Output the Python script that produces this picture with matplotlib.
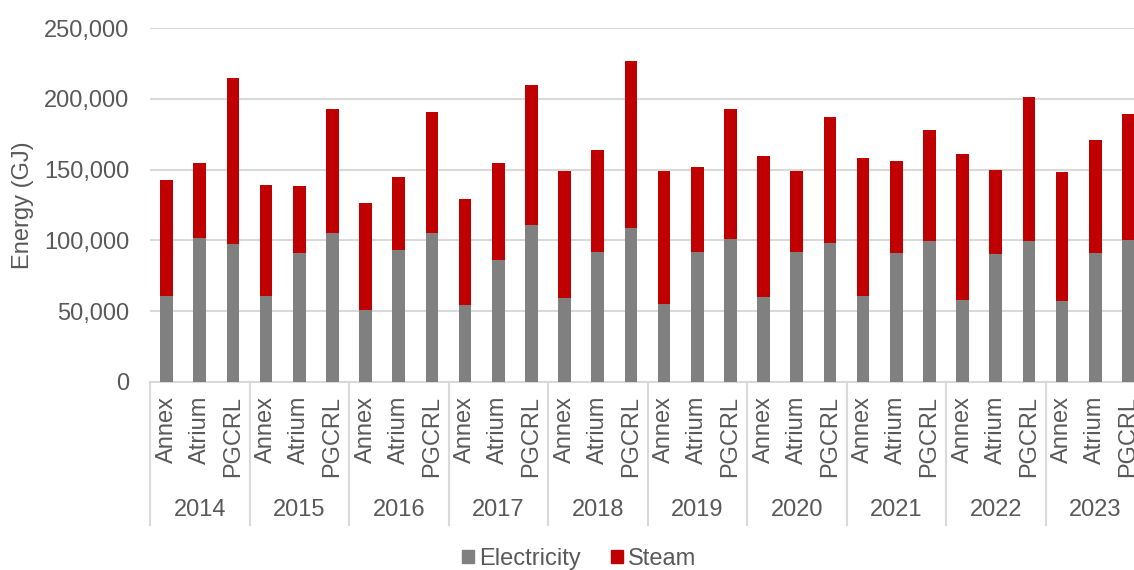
import numpy as np
import matplotlib
matplotlib.use("Agg")
import matplotlib.pyplot as plt
from matplotlib.patches import Patch
from matplotlib.ticker import FuncFormatter

plt.rcParams['font.family'] = ['Liberation Sans', 'DejaVu Sans']

# data (GJ)
years = ['2014', '2015', '2016', '2017', '2018', '2019', '2020', '2021', '2022', '2023']
buildings = ['Annex', 'Atrium', 'PGCRL']

electricity = [60800, 101900, 97400,
               60800, 91000, 105400,
               51200, 92900, 105400,
               54700, 86500, 111100,
               59200, 92000, 108900,
               55400, 92000, 100900,
               60100, 92000, 98300,
               60800, 91000, 99300,
               58200, 90100, 99300,
               57300, 91000, 100000]

total = [142700, 154500, 214400,
         138900, 138200, 192700,
         126200, 144600, 190800,
         129000, 154500, 209900,
         149000, 163600, 226400,
         149000, 151600, 192700,
         159900, 149000, 187200,
         158000, 156300, 178000,
         160800, 150000, 201600,
         148100, 170700, 189100]

steam = [t - e for t, e in zip(total, electricity)]
labels = buildings * len(years)

text_col = '#595959'
grid_col = '#d9d9d9'

W, H = 1134, 570
fig = plt.figure(figsize=(W / 100, H / 100), dpi=100)
# plot area runs past the right edge, as in the cropped original
ax = fig.add_axes([150 / W, 188 / H, 995 / W, 354 / H])

x = np.arange(len(labels))
ax.bar(x, electricity, width=0.38, color='#808080', zorder=3, label='Electricity')
ax.bar(x, steam, width=0.38, bottom=electricity, color='#C00000', zorder=3, label='Steam')

ax.set_xlim(-0.5, len(labels) - 0.5)
ax.set_ylim(0, 250000)
ax.set_yticks(np.arange(0, 250001, 50000))
ax.yaxis.set_major_formatter(FuncFormatter(lambda v, p: f'{int(v):,}'))
ax.grid(axis='y', color=grid_col, linewidth=1.5, zorder=0)

for s in ['top', 'right', 'left']:
    ax.spines[s].set_visible(False)
ax.spines['bottom'].set_color(grid_col)
ax.spines['bottom'].set_linewidth(1.5)

ax.tick_params(axis='y', length=0, pad=15, labelsize=17, labelcolor=text_col)
ax.set_xticks(x)
ax.set_xticklabels(labels, rotation=90)
ax.tick_params(axis='x', length=0, pad=10, labelsize=17, labelcolor=text_col)

ax.set_ylabel('Energy (GJ)', fontsize=17, color=text_col, labelpad=7)

# year labels and group separators below the axis
trans = ax.get_xaxis_transform()
for i, yr in enumerate(years):
    ax.text(i * 3 + 1, -0.3616, yr, transform=trans, ha='center', va='center',
            fontsize=17, color=text_col)
for k in range(len(years) + 1):
    ax.plot([k * 3 - 0.5, k * 3 - 0.5], [0, -0.404], transform=trans,
            color=grid_col, linewidth=1.5, clip_on=False)

handles = [Patch(color='#808080', label='Electricity'),
           Patch(color='#C00000', label='Steam')]
fig.legend(handles=handles, loc='center', bbox_to_anchor=(579 / W, 1 - 559 / H),
           ncol=2, frameon=False, fontsize=17, labelcolor=text_col,
           handlelength=0.5, handleheight=0.5, handletextpad=0.2,
           columnspacing=1.3)

fig.savefig('out.png', dpi=100)
